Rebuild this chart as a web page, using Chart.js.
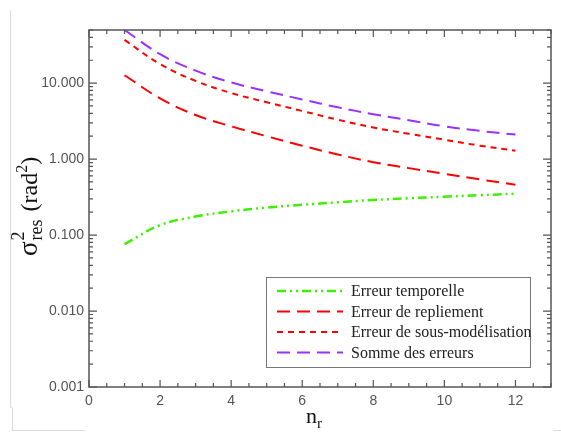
<!DOCTYPE html>
<html>
<head>
<meta charset="utf-8">
<script src="https://cdn.jsdelivr.net/npm/chart.js@4"></script>
<style>
  html, body { margin: 0; padding: 0; background: #fff; }
  #wrap { width: 561px; height: 432px; position: relative; }
</style>
</head>
<body>
<div id="wrap"><canvas id="myChart"></canvas></div>
<script>
const nr = [1, 2, 3, 4, 5, 6, 7, 8, 9, 10, 11, 12];
const erreurTemporelle = [0.076, 0.135, 0.175, 0.205, 0.23, 0.25, 0.27, 0.29, 0.305, 0.32, 0.335, 0.35];
const erreurRepliement = [12.7, 6.3, 3.8, 2.7, 2.0, 1.5, 1.15, 0.91, 0.76, 0.64, 0.54, 0.46];
const erreurSousModelisation = [37, 17.8, 10.7, 7.4, 5.6, 4.3, 3.3, 2.6, 2.15, 1.8, 1.5, 1.29];
const sommeErreurs = [50, 24, 14.6, 10.2, 7.8, 6.1, 4.8, 3.9, 3.25, 2.7, 2.35, 2.1];

const xTicks = [0, 2, 4, 6, 8, 10, 12];
const yTicks = [0.001, 0.01, 0.1, 1, 10];
const yTickLabels = ['0.001', '0.010', '0.100', '1.000', '10.000'];

const serif = '"Liberation Serif", "DejaVu Serif", serif';
const sans = '"Liberation Sans", Arial, sans-serif';

function pts(values) {
    return nr.map((x, i) => ({ x: x, y: values[i] }));
}

// frame, inward ticks, axis titles and legend box
const decorations = {
    id: 'decorations',
    beforeDraw(chart) {
        // faint page border seen in the scan
        const ctx = chart.ctx;
        ctx.save();
        ctx.strokeStyle = '#dcdcdc';
        ctx.lineWidth = 1;
        ctx.beginPath();
        ctx.moveTo(10.5, 10); ctx.lineTo(10.5, 407.5); ctx.lineTo(12, 407.5);
        ctx.moveTo(12.5, 408); ctx.lineTo(12.5, 430.5); ctx.lineTo(85, 430.5);
        ctx.moveTo(553, 430.5); ctx.lineTo(561, 430.5);
        ctx.stroke();
        ctx.restore();
    },
    afterDraw(chart) {
        const ctx = chart.ctx;
        const a = chart.chartArea;
        const xs = chart.scales.x;
        const ys = chart.scales.y;
        ctx.save();
        ctx.strokeStyle = '#555';
        ctx.lineWidth = 1.5;
        ctx.strokeRect(a.left, a.top, a.right - a.left, a.bottom - a.top);

        ctx.lineWidth = 1.2;
        ctx.beginPath();
        for (let v = 0; v <= 13; v += 0.5) {
            const px = xs.getPixelForValue(v);
            const len = (v % 2 === 0) ? 7 : 4;
            ctx.moveTo(px, a.bottom); ctx.lineTo(px, a.bottom - len);
            ctx.moveTo(px, a.top); ctx.lineTo(px, a.top + len);
        }
        ys.ticks.forEach(t => {
            const py = ys.getPixelForValue(t.value);
            const len = yTicks.includes(t.value) ? 8 : 4;
            ctx.moveTo(a.left, py); ctx.lineTo(a.left + len, py);
            ctx.moveTo(a.right, py); ctx.lineTo(a.right - len, py);
        });
        ctx.stroke();

        // y title
        ctx.fillStyle = '#111';
        ctx.textBaseline = 'alphabetic';
        ctx.translate(37, 256);
        ctx.rotate(-Math.PI / 2);
        let x = 0;
        ctx.font = '27px ' + serif;
        ctx.fillText('\u03c3', x, 0);
        x += ctx.measureText('\u03c3').width + 1;
        ctx.font = '18px ' + serif;
        ctx.fillText('2', x, -13);
        ctx.fillText('res', x, 5);
        x += ctx.measureText('res').width + 2;
        ctx.font = '24px ' + serif;
        ctx.fillText(' (rad', x, 0);
        x += ctx.measureText(' (rad').width;
        ctx.font = '16px ' + serif;
        ctx.fillText('2', x, -10);
        x += ctx.measureText('2').width;
        ctx.font = '24px ' + serif;
        ctx.fillText(')', x, 0);
        ctx.restore();

        // x title
        ctx.save();
        ctx.fillStyle = '#111';
        ctx.font = '22px ' + serif;
        ctx.fillText('n', 306, 423);
        const nw = ctx.measureText('n').width;
        ctx.font = '15px ' + serif;
        ctx.fillText('r', 306 + nw, 428);
        ctx.restore();

        // legend
        ctx.save();
        const lx = 266, ly = 277, lw = 264, lh = 90;
        ctx.fillStyle = '#fff';
        ctx.fillRect(lx, ly, lw, lh);
        ctx.strokeStyle = '#777';
        ctx.lineWidth = 1;
        ctx.strokeRect(lx + 0.5, ly + 0.5, lw, lh);
        chart.data.datasets.forEach((ds, i) => {
            const y = ly + 14 + i * 20.5;
            ctx.strokeStyle = ds.borderColor;
            ctx.lineWidth = ds.borderWidth;
            ctx.setLineDash(ds.borderDash);
            ctx.beginPath();
            ctx.moveTo(lx + 11, y);
            ctx.lineTo(lx + 77, y);
            ctx.stroke();
            ctx.setLineDash([]);
            ctx.fillStyle = '#222';
            ctx.font = '16px ' + serif;
            ctx.textBaseline = 'middle';
            ctx.fillText(ds.label, lx + 85, y + 1);
        });
        ctx.restore();
    }
};

new Chart(document.getElementById('myChart').getContext('2d'), {
    type: 'line',
    data: {
        datasets: [
            {
                label: 'Erreur temporelle',
                data: pts(erreurTemporelle),
                borderColor: '#3cf000',
                borderWidth: 2.5,
                borderDash: [9, 4, 2, 4, 2, 4]
            },
            {
                label: 'Erreur de repliement',
                data: pts(erreurRepliement),
                borderColor: '#ff0000',
                borderWidth: 2,
                borderDash: [13, 7]
            },
            {
                label: 'Erreur de sous-mod\u00e9lisation',
                data: pts(erreurSousModelisation),
                borderColor: '#ff0000',
                borderWidth: 2,
                borderDash: [6, 5]
            },
            {
                label: 'Somme des erreurs',
                data: pts(sommeErreurs),
                borderColor: '#9b30ff',
                borderWidth: 2,
                borderDash: [13, 7]
            }
        ]
    },
    options: {
        responsive: true,
        maintainAspectRatio: false,
        animation: false,
        layout: { padding: { left: 0, top: 30, right: 10, bottom: 0 } },
        elements: {
            point: { radius: 0 },
            line: { tension: 0.4, fill: false }
        },
        plugins: {
            legend: { display: false },
            tooltip: { enabled: false }
        },
        scales: {
            x: {
                type: 'linear',
                min: 0,
                max: 13,
                afterBuildTicks(scale) {
                    scale.ticks = xTicks.map(v => ({ value: v }));
                },
                afterFit(scale) { scale.height = 45; },
                grid: { display: false, drawTicks: false },
                border: { display: false },
                ticks: {
                    padding: 6,
                    color: '#555',
                    font: { family: sans, size: 14 },
                    maxRotation: 0,
                    autoSkip: false
                }
            },
            y: {
                type: 'logarithmic',
                min: 0.001,
                max: 50,
                afterBuildTicks(scale) {
                    const t = [];
                    yTicks.forEach(d => {
                        for (let k = 1; k <= 9; k++) {
                            const v = k === 1 ? d : k * d;
                            if (v <= 50) t.push({ value: v });
                        }
                    });
                    scale.ticks = t;
                },
                afterFit(scale) { scale.width = 89; },
                grid: { display: false, drawTicks: false },
                border: { display: false },
                ticks: {
                    padding: 5,
                    color: '#555',
                    font: { family: sans, size: 14 },
                    autoSkip: false,
                    callback(value) {
                        const i = yTicks.indexOf(value);
                        return i >= 0 ? yTickLabels[i] : '';
                    }
                }
            }
        }
    },
    plugins: [decorations]
});
</script>
</body>
</html>
